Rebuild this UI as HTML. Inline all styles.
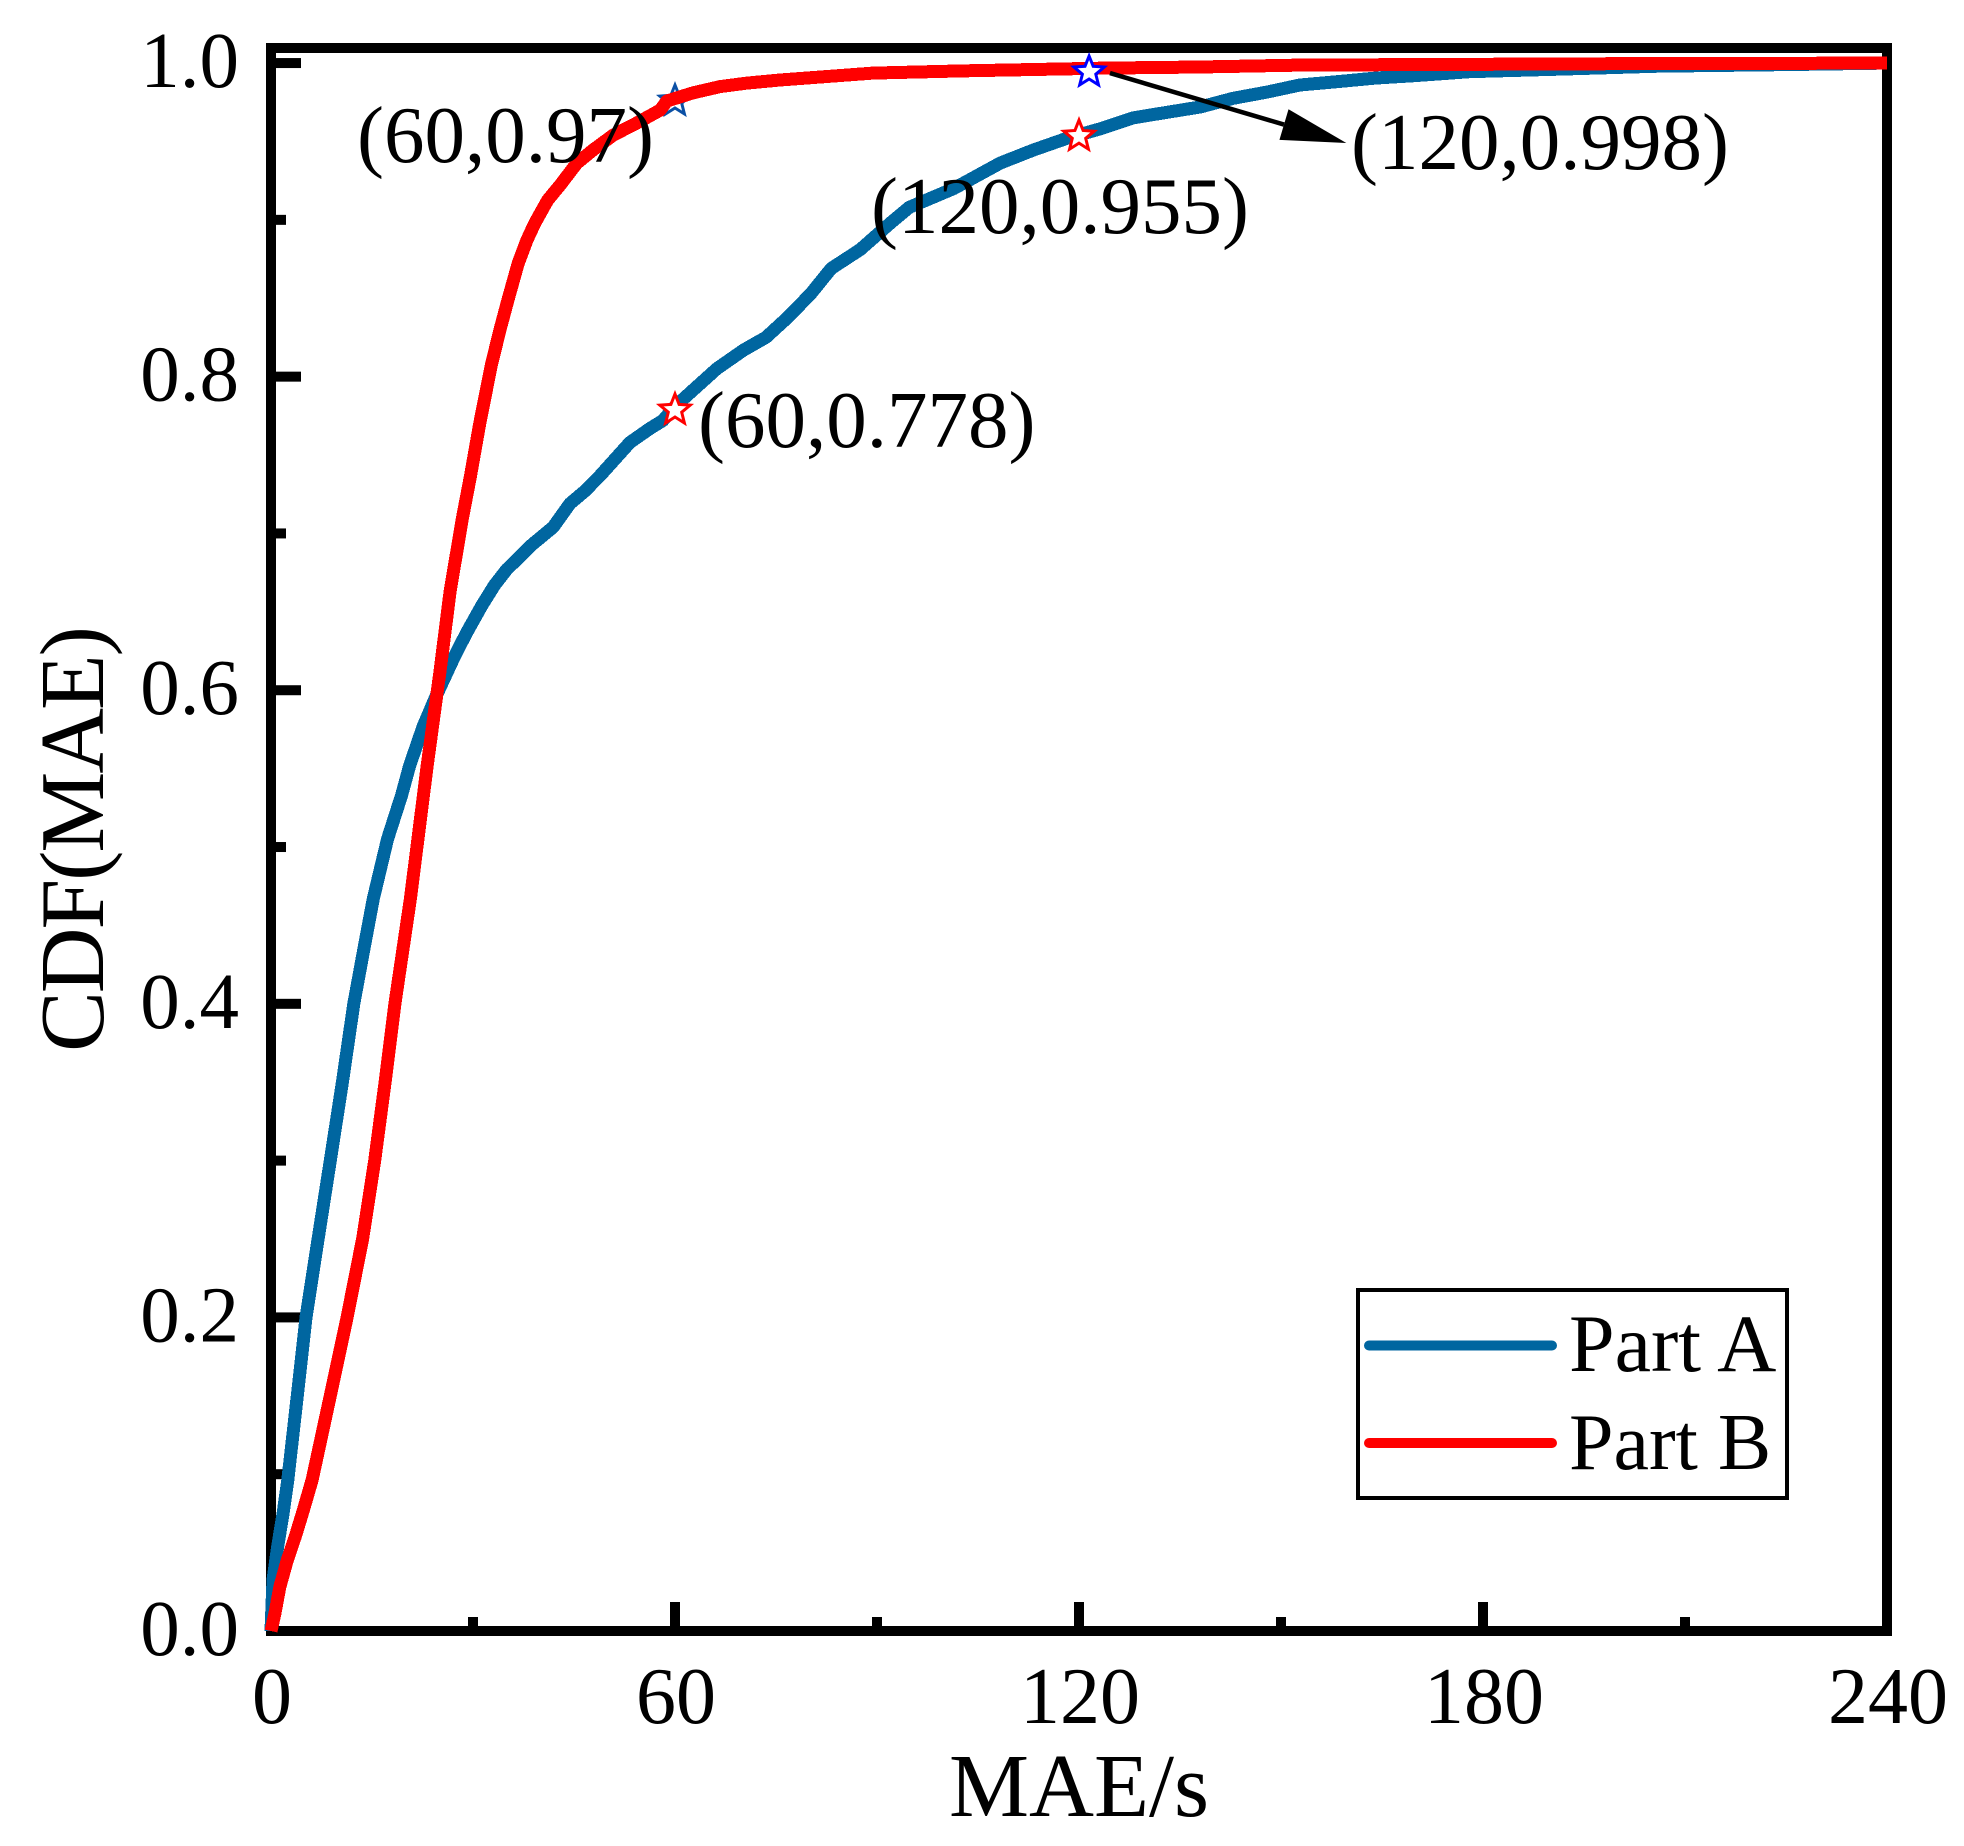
<!DOCTYPE html>
<html>
<head>
<meta charset="utf-8">
<title>CDF of MAE</title>
<style>
html,body{margin:0;padding:0;background:#fff;}
svg{display:block;}
text{font-family:"Liberation Serif","Times New Roman",serif;fill:#000;}
</style>
</head>
<body>
<svg id="chart" xmlns="http://www.w3.org/2000/svg" width="1964" height="1846" viewBox="0 0 1964 1846">
  <rect x="0" y="0" width="1964" height="1846" fill="#fff"/>
  <g id="under-layer"></g>
  <g id="axes-layer"></g>
  <g id="curve-layer"></g>
  <g id="marker-layer"></g>
  <g id="annotation-layer"></g>
  <text x="1079" y="1816" font-size="90" text-anchor="middle">MAE/s</text>
  <text transform="translate(103,840) rotate(-90)" font-size="91" letter-spacing="-2" text-anchor="middle">CDF(MAE)</text>
  <g>
    <rect x="1358" y="1290" width="429" height="208" fill="#fff" stroke="#000" stroke-width="4"/>
    <line x1="1369" y1="1345.5" x2="1552" y2="1345.5" stroke="#0066a0" stroke-width="10" stroke-linecap="round"/>
    <text x="1569" y="1371" font-size="82">Part A</text>
    <line x1="1369" y1="1443" x2="1552" y2="1443" stroke="#ff0000" stroke-width="10" stroke-linecap="round"/>
    <text x="1569" y="1469" font-size="80">Part B</text>
  </g>
</svg>
<script>
// ---- chart data ----
const xMajorTicks = [0, 60, 120, 180, 240];
const xMinorTicks = [30, 90, 150, 210];
const yMajorTicks = [0, 0.2, 0.4, 0.6, 0.8, 1.0];
const yMinorTicks = [0.1, 0.3, 0.5, 0.7, 0.9];
const xTickLabels = ["0", "60", "120", "180", "240"];
const yTickLabels = ["0.0", "0.2", "0.4", "0.6", "0.8", "1.0"];
const xMaxValue = 240;
const yMaxValue = 1.0096;

const partAMae = [0, 0.3, 1.0, 1.8, 2.5, 3.9, 5.2, 7.0, 8.8, 10.6, 12.3, 13.8, 15.2, 17.3, 19.4, 20.6, 22.6, 24.6, 27.3, 29.1, 31.3, 33.2, 35, 38.8, 41.9, 44.4, 46.6, 48.9, 53.3, 56.3, 58.2, 60, 66.2, 70.2, 73.5, 76.8, 80.2, 83.2, 87.5, 92, 94.8, 101.4, 108.3, 113.2, 118.2, 123.1, 128, 133, 138, 142.9, 147.9, 152.8, 158, 164, 170, 178, 190.6, 206, 225, 240];
const partACdf = [0, 0.0325, 0.054, 0.075, 0.0963, 0.15, 0.2, 0.25, 0.3, 0.35, 0.4, 0.435, 0.467, 0.505, 0.533, 0.552, 0.577, 0.597, 0.622, 0.637, 0.654, 0.667, 0.677, 0.693, 0.704, 0.719, 0.727, 0.737, 0.758, 0.767, 0.772, 0.781, 0.805, 0.817, 0.825, 0.838, 0.853, 0.869, 0.881, 0.898, 0.908, 0.92, 0.9362, 0.9445, 0.952, 0.958, 0.965, 0.9685, 0.972, 0.9775, 0.9815, 0.986, 0.988, 0.9904, 0.992, 0.9945, 0.996, 0.998, 0.999, 1.0];

const partBMae = [0, 0.6, 1.3, 2.4, 3.6, 4.8, 6.1, 8.8, 11.3, 13.6, 15.4, 17, 18.4, 20.7, 23.2, 25.1, 26.6, 28.4, 29.6, 31, 32.7, 34.0, 35.2, 36.7, 38.0, 39.2, 41.1, 42.9, 45.4, 47.8, 50.8, 54.3, 57.8, 58.8, 62.7, 66.7, 70.7, 75.6, 89.4, 102.6, 124, 138, 152.8, 180, 200, 240];
const partBCdf = [0, 0.0115, 0.028, 0.045, 0.06, 0.077, 0.0963, 0.15, 0.2, 0.25, 0.3, 0.352, 0.4, 0.467, 0.552, 0.612, 0.663, 0.709, 0.736, 0.77, 0.807, 0.8297, 0.849, 0.872, 0.887, 0.898, 0.9126, 0.922, 0.936, 0.9445, 0.954, 0.9617, 0.97, 0.9758, 0.981, 0.985, 0.9872, 0.9892, 0.9936, 0.995, 0.9968, 0.9975, 0.9987, 0.9992, 0.9996, 1.0];

const starMae = [60, 60, 120, 121.5];
const starCdf = [0.9758, 0.7787, 0.9534, 0.9943];
const annotationLabels = ["(60,0.97)", "(60,0.778)", "(120,0.955)", "(120,0.998)"];
const arrowFrom = [124.6, 0.9936];
const arrowTo = [159.7, 0.949];

// ---- axis functions ----
const PLOT_LEFT = 271, PLOT_RIGHT = 1887, PLOT_TOP = 48, PLOT_BOTTOM = 1631;
function xScale(v) { return PLOT_LEFT + v * (PLOT_RIGHT - PLOT_LEFT) / xMaxValue; }
function yScale(v) { return PLOT_BOTTOM - v * (PLOT_BOTTOM - PLOT_TOP) / yMaxValue; }

const SVGNS = "http://www.w3.org/2000/svg";
function make(tag, parent, attrs) {
  const el = document.createElementNS(SVGNS, tag);
  for (const k in attrs) el.setAttribute(k, attrs[k]);
  parent.appendChild(el);
  return el;
}
function starPoints(cx, cy, R, r) {
  const pts = [];
  for (let i = 0; i < 10; i++) {
    const rad = i % 2 ? r : R;
    const a = -Math.PI / 2 + i * Math.PI / 5;
    pts.push((cx + rad * Math.cos(a)).toFixed(1) + "," + (cy + rad * Math.sin(a)).toFixed(1));
  }
  return pts.join(" ");
}

const axesLayer = document.getElementById("axes-layer");
const curveLayer = document.getElementById("curve-layer");
const markerLayer = document.getElementById("marker-layer");
const underLayer = document.getElementById("under-layer");
const annLayer = document.getElementById("annotation-layer");

// frame
const frame = make("rect", axesLayer, {x: xScale(0), y: yScale(yMaxValue), width: xScale(xMaxValue) - xScale(0), height: yScale(0) - yScale(yMaxValue), fill: "none", stroke: "#000", "stroke-width": 10});



// x ticks
xMajorTicks.forEach(function (v, i) {
  const t = make("rect", axesLayer, {x: xScale(v) - 5, y: PLOT_BOTTOM - 29, width: 10, height: 29, fill: "#000"});
  
  
  const l = make("text", axesLayer, {x: xScale(v) + 1, y: 1723, "font-size": 80, "text-anchor": "middle"});
  l.textContent = xTickLabels[i];
  
  
});
xMinorTicks.forEach(function (v) {
  const t = make("rect", axesLayer, {x: xScale(v) - 5, y: PLOT_BOTTOM - 14, width: 10, height: 14, fill: "#000"});
  
  
});

// y ticks
yMajorTicks.forEach(function (v, i) {
  const t = make("rect", axesLayer, {x: PLOT_LEFT, y: yScale(v) - 5, width: 30, height: 10, fill: "#000"});
  
  
  const l = make("text", axesLayer, {x: 239, y: yScale(v) + 24, "font-size": 79, "text-anchor": "end"});
  l.textContent = yTickLabels[i];
  
  
});
yMinorTicks.forEach(function (v) {
  const t = make("rect", axesLayer, {x: PLOT_LEFT, y: yScale(v) - 5, width: 15, height: 10, fill: "#000"});
  
  
});

// curves
function curvePoints(xs, ys) {
  return xs.map(function (x, i) { return xScale(x).toFixed(1) + "," + yScale(ys[i]).toFixed(1); }).join(" ");
}
const lineA = make("polyline", curveLayer, {points: curvePoints(partAMae, partACdf), fill: "none", stroke: "#0066a0", "stroke-width": 13, "stroke-linejoin": "round", "shape-rendering": "crispEdges"});


const lineB = make("polyline", curveLayer, {points: curvePoints(partBMae, partBCdf), fill: "none", stroke: "#ff0000", "stroke-width": 13, "stroke-linejoin": "round", "shape-rendering": "crispEdges"});



// star markers (first one lies underneath the red curve)
const star0 = make("polygon", underLayer, {points: starPoints(xScale(starMae[0]), yScale(starCdf[0]), 16, 7), fill: "none", stroke: "#0b50a5", "stroke-width": 3});


const star1 = make("polygon", markerLayer, {points: starPoints(xScale(starMae[1]), yScale(starCdf[1]), 16, 7), fill: "#fff", stroke: "#ff0000", "stroke-width": 3});


const star2 = make("polygon", markerLayer, {points: starPoints(xScale(starMae[2]), yScale(starCdf[2]), 16, 7), fill: "#fff", stroke: "#ff0000", "stroke-width": 3});


const star3 = make("polygon", markerLayer, {points: starPoints(xScale(starMae[3]), yScale(starCdf[3]), 16, 7), fill: "#fff", stroke: "#0000ff", "stroke-width": 3});



// annotation labels
const a0 = make("text", annLayer, {x: 357, y: 162, "font-size": 81});
a0.textContent = annotationLabels[0];


const a1 = make("text", annLayer, {x: 698, y: 447, "font-size": 81});
a1.textContent = annotationLabels[1];


const a2 = make("text", annLayer, {x: 871, y: 233, "font-size": 81});
a2.textContent = annotationLabels[2];


const a3 = make("text", annLayer, {x: 1351, y: 169, "font-size": 81});
a3.textContent = annotationLabels[3];



// arrow
const ax1 = xScale(arrowFrom[0]), ay1 = yScale(arrowFrom[1]);
const ax2 = xScale(arrowTo[0]), ay2 = yScale(arrowTo[1]);
const alen = Math.hypot(ax2 - ax1, ay2 - ay1);
const ux = (ax2 - ax1) / alen, uy = (ay2 - ay1) / alen;
const bx = ax2 - ux * 65, by = ay2 - uy * 65;
const shaft = make("line", annLayer, {x1: ax1, y1: ay1, x2: bx, y2: by, stroke: "#000", "stroke-width": 4.5});


const head = make("polygon", annLayer, {points: ax2 + "," + ay2 + " " + (bx - uy * 16) + "," + (by + ux * 16) + " " + (bx + uy * 16) + "," + (by - ux * 16), fill: "#000"});


</script>
</body>
</html>
